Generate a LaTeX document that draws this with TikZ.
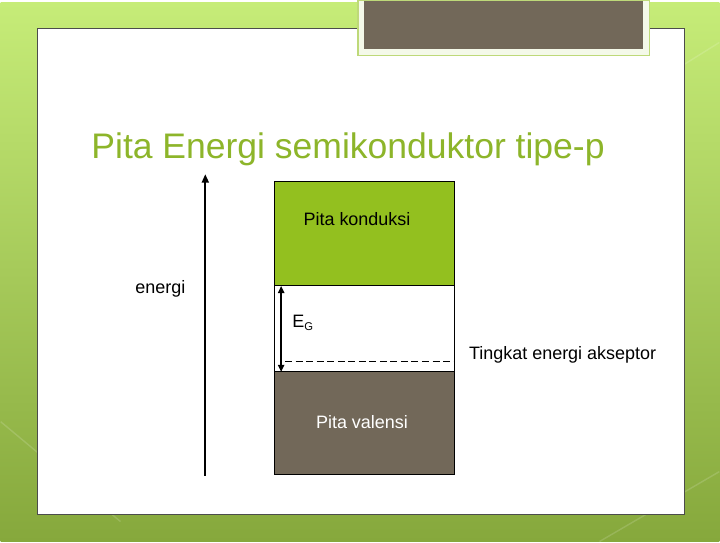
\documentclass[tikz,border=0pt]{standalone}
\usepackage{fontspec}
\setmainfont{Liberation Sans}
\usetikzlibrary{arrows.meta}

\definecolor{bgtop}{HTML}{C6EC78}
\definecolor{bgbot}{HTML}{86A83C}
\definecolor{kondgreen}{HTML}{93C01F}
\definecolor{valbrown}{HTML}{726859}
\definecolor{titlegreen}{HTML}{8DB52A}

\tikzset{
    band/.style={draw=black, line width=0.6pt},
    lbl/.style={anchor=center, font=\fontsize{12.8}{14}\selectfont, inner sep=0pt},
}

\begin{document}
\begin{tikzpicture}[x=0.025cm, y=-0.025cm]
        % slide background
        \shade[top color=bgtop, bottom color=bgbot] (0,0) rectangle (720,540);
        \draw[white, opacity=0.15, line width=1pt] (0,420) -- (120,520) (600,540) -- (720,470) (640,90) -- (720,40);
        \draw[black!70, fill=white, line width=0.6pt] (37,26) rectangle (685,513);

        % top tab
        \draw[draw=kondgreen!60!white, fill=white!90!kondgreen, line width=0.8pt] (358,-2) rectangle (650,53);
        \fill[valbrown] (364,-2) rectangle (644,47);

        % title
        \node[anchor=center, text=titlegreen, font=\fontsize{25.3}{30}\selectfont] (judul) at (348,147) {Pita Energi semikonduktor tipe-p};

        % bands
        \draw[band, fill=kondgreen] (274,179) rectangle (455,283);
        \draw[band, fill=white] (274,283) rectangle (455,370);
        \draw[band, fill=valbrown] (274,370) rectangle (455,473);
        \coordinate (aksL) at (285,360);
        \coordinate (aksR) at (455,360);
        \draw[line width=0.6pt, dash pattern=on 5pt off 2.5pt] (aksL) -- (aksR);

        \node[lbl] (konduksi) at (357,217) {Pita konduksi};
        \node[lbl, text=white] (valensi) at (362,420) {Pita valensi};
        \node[lbl] (akseptor) at (563,353) {Tingkat energi akseptor};
        \node[lbl] (energi) at (160,287) {energi};
        \node[lbl, anchor=west] (eg) at (292,321) {E\textsubscript{\fontsize{8}{9}\selectfont G}};

        % arrows
        \coordinate (enBot) at (205,474);
        \coordinate (enTop) at (205,172);
        \draw[-{Triangle[length=6pt,width=5pt]}, line width=1.2pt] (enBot) -- (enTop);
        \coordinate (egTop) at (281,284);
        \coordinate (egBot) at (281,370);
        \draw[{Triangle[length=5pt,width=4.5pt]}-{Triangle[length=5pt,width=4.5pt]}, line width=1pt] (egTop) -- (egBot);
    \end{tikzpicture}
\end{document}
